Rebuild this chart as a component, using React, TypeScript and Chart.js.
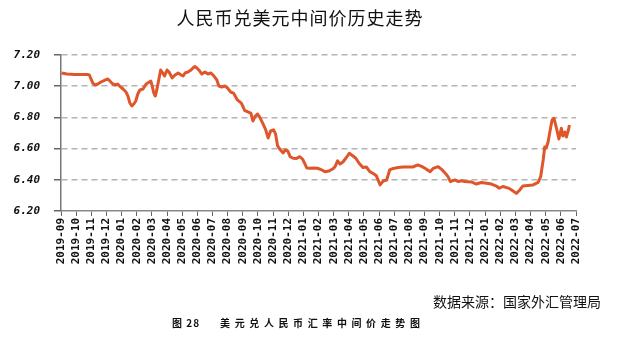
import React, { useEffect, useRef } from "react";
import { Chart, registerables } from "chart.js";

Chart.register(...registerables);

const monthLabels = [
  "2019-09", "2019-10", "2019-11", "2019-12",
  "2020-01", "2020-02", "2020-03", "2020-04", "2020-05", "2020-06",
  "2020-07", "2020-08", "2020-09", "2020-10", "2020-11", "2020-12",
  "2021-01", "2021-02", "2021-03", "2021-04", "2021-05", "2021-06",
  "2021-07", "2021-08", "2021-09", "2021-10", "2021-11", "2021-12",
  "2022-01", "2022-02", "2022-03", "2022-04", "2022-05", "2022-06", "2022-07",
];

const yTicks = [6.2, 6.4, 6.6, 6.8, 7.0, 7.2];

const dates = [
  "2019-09-02", "2019-09-13", "2019-09-28", "2019-10-12", "2019-10-24", "2019-10-28",
  "2019-11-04", "2019-11-08", "2019-11-14", "2019-11-20", "2019-11-24", "2019-11-29",
  "2019-12-04", "2019-12-10", "2019-12-14", "2019-12-20", "2019-12-24", "2019-12-28",
  "2020-01-04", "2020-01-10", "2020-01-14", "2020-01-18", "2020-01-22", "2020-01-26", "2020-01-30",
  "2020-02-03", "2020-02-07", "2020-02-13", "2020-02-19", "2020-02-25", "2020-02-28",
  "2020-03-01", "2020-03-05", "2020-03-08", "2020-03-11", "2020-03-15", "2020-03-19", "2020-03-23", "2020-03-27",
  "2020-04-01", "2020-04-05", "2020-04-11", "2020-04-17", "2020-04-23", "2020-04-29",
  "2020-05-03", "2020-05-07", "2020-05-13", "2020-05-19", "2020-05-23", "2020-05-27", "2020-05-31",
  "2020-06-04", "2020-06-10", "2020-06-16", "2020-06-22", "2020-06-28",
  "2020-07-04", "2020-07-10", "2020-07-14", "2020-07-20", "2020-07-26",
  "2020-08-01", "2020-08-07", "2020-08-13", "2020-08-21", "2020-08-29",
  "2020-09-05", "2020-09-11", "2020-09-17", "2020-09-21", "2020-09-25", "2020-09-30",
  "2020-10-05", "2020-10-11", "2020-10-17", "2020-10-22", "2020-10-27",
  "2020-11-02", "2020-11-06", "2020-11-10", "2020-11-15", "2020-11-21", "2020-11-25", "2020-11-30",
  "2020-12-05", "2020-12-11", "2020-12-18", "2020-12-25", "2020-12-31",
  "2021-01-08", "2021-01-14", "2021-01-22", "2021-01-30",
  "2021-02-07", "2021-02-13", "2021-02-20", "2021-02-27",
  "2021-03-04", "2021-03-09", "2021-03-14", "2021-03-20", "2021-03-27",
  "2021-04-02", "2021-04-08", "2021-04-15", "2021-04-21", "2021-04-29",
  "2021-05-06", "2021-05-13", "2021-05-19", "2021-05-26",
  "2021-06-03", "2021-06-09", "2021-06-16", "2021-06-22", "2021-06-29",
  "2021-07-09", "2021-07-19", "2021-07-29",
  "2021-08-08", "2021-08-18", "2021-08-25",
  "2021-09-02", "2021-09-12", "2021-09-18", "2021-09-28",
  "2021-10-05", "2021-10-12", "2021-10-18", "2021-10-23",
  "2021-11-01", "2021-11-08", "2021-11-14", "2021-11-21", "2021-11-27",
  "2021-12-04", "2021-12-14", "2021-12-24",
  "2022-01-04", "2022-01-14", "2022-01-24", "2022-01-30",
  "2022-02-06", "2022-02-16", "2022-02-22",
  "2022-03-03", "2022-03-10", "2022-03-16", "2022-03-26",
  "2022-04-06", "2022-04-16", "2022-04-21", "2022-04-26", "2022-04-29",
  "2022-05-02", "2022-05-06", "2022-05-09", "2022-05-14", "2022-05-18", "2022-05-23", "2022-05-28",
  "2022-06-02", "2022-06-05", "2022-06-09", "2022-06-12", "2022-06-16", "2022-06-18",
];

const rates = [
  7.085, 7.078, 7.075, 7.075, 7.075, 7.072,
  7.020, 7.008, 7.014, 7.027, 7.033, 7.040,
  7.046, 7.027, 7.014, 7.008, 7.014, 7.001,
  6.982, 6.963, 6.937, 6.892, 6.873, 6.886, 6.905,
  6.950, 6.976, 6.982, 7.014, 7.027, 7.033,
  7.008, 6.956, 6.937, 6.976, 7.040, 7.104, 7.085, 7.065,
  7.104, 7.091, 7.053, 7.072, 7.085, 7.072,
  7.065, 7.085, 7.091, 7.104, 7.117, 7.126, 7.117,
  7.104, 7.078, 7.091, 7.078, 7.085,
  7.065, 7.040, 7.001, 6.995, 7.001,
  6.988, 6.963, 6.956, 6.912, 6.892,
  6.843, 6.836, 6.828, 6.777, 6.804, 6.822,
  6.800, 6.762, 6.720, 6.668, 6.713,
  6.720, 6.694, 6.617, 6.594, 6.572, 6.591, 6.585,
  6.548, 6.538, 6.537, 6.548, 6.530,
  6.476, 6.474, 6.476, 6.474,
  6.463, 6.452, 6.456, 6.469,
  6.484, 6.521, 6.501, 6.514, 6.543,
  6.570, 6.556, 6.538, 6.508, 6.479,
  6.482, 6.452, 6.442, 6.428,
  6.367, 6.392, 6.399, 6.463, 6.473,
  6.479, 6.482, 6.482,
  6.482, 6.495, 6.488,
  6.474, 6.452, 6.473, 6.484,
  6.467, 6.444, 6.420, 6.388,
  6.399, 6.389, 6.394, 6.389, 6.388,
  6.386, 6.373, 6.383,
  6.378, 6.373, 6.360, 6.346,
  6.357, 6.347, 6.335,
  6.313, 6.335, 6.360, 6.363,
  6.367, 6.383, 6.420, 6.527, 6.610,
  6.604, 6.644, 6.698, 6.783, 6.794, 6.732, 6.662,
  6.730, 6.681, 6.706, 6.674, 6.719, 6.751,
];

const TITLE = "人民币兑美元中间价历史走势";
const SOURCE = "数据来源：国家外汇管理局";
const FIG_NO = "图 28";
const CAPTION = "美元兑人民币汇率中间价走势图";

// map a date string to its position on the month axis (0 = 2019-09)
function monthPos(d: string): number {
  const [y, m, day] = d.split("-").map(Number);
  const idx = (y - 2019) * 12 + (m - 9);
  const dim = new Date(y, m, 0).getDate();
  return idx + (day - 1) / dim;
}

export default function App() {
  const canvasRef = useRef<HTMLCanvasElement | null>(null);

  useEffect(() => {
    const canvas = canvasRef.current;
    if (!canvas) return;
    const points = dates.map((d, i) => ({ x: monthPos(d), y: rates[i] }));
    const tickFont = { family: "'DejaVu Sans Mono', monospace", size: 11, weight: "bold" as const };

    const chart = new Chart(canvas, {
      type: "line",
      data: {
        datasets: [
          {
            data: points,
            borderColor: "#E0562B",
            borderWidth: 3,
            pointRadius: 0,
            tension: 0,
            borderJoinStyle: "round",
            fill: false,
          },
        ],
      },
      options: {
        animation: false,
        responsive: false,
        maintainAspectRatio: false,
        layout: { padding: { top: 55, right: 58, left: 0, bottom: 0 } },
        plugins: { legend: { display: false }, tooltip: { enabled: false }, title: { display: false } },
        scales: {
          x: {
            type: "linear",
            min: 0,
            max: monthLabels.length - 1,
            afterBuildTicks: (s: any) => {
              s.ticks = monthLabels.map((_, i) => ({ value: i }));
            },
            afterFit: (s: any) => {
              s.height = 153;
            },
            ticks: {
              autoSkip: false,
              minRotation: 90,
              maxRotation: 90,
              padding: 2,
              color: "#111",
              font: tickFont,
              callback: (v: any) => monthLabels[Math.round(Number(v))] ?? "",
            },
            grid: {
              drawOnChartArea: false,
              drawTicks: true,
              tickLength: 5,
              color: "#666",
              lineWidth: 1,
            },
            border: { display: true, color: "#888", width: 1.5 },
          },
          y: {
            type: "linear",
            min: yTicks[0],
            max: yTicks[yTicks.length - 1],
            afterBuildTicks: (s: any) => {
              s.ticks = yTicks.map((v) => ({ value: v }));
            },
            afterFit: (s: any) => {
              s.width = 61;
            },
            ticks: {
              padding: 14,
              color: "#111",
              font: { family: "'DejaVu Sans Mono', monospace", size: 11, weight: "bold" as const, style: "italic" as const },
              callback: (v: any) => Number(v).toFixed(2),
            },
            grid: {
              color: (ctx: any) =>
                ctx.tick && Math.abs(ctx.tick.value - yTicks[0]) < 1e-9 ? "rgba(0,0,0,0)" : "#b4b4b4",
              lineWidth: 1.5,
              tickColor: "#666",
              tickLength: 7,
              tickBorderDash: [],
            },
            border: { display: true, color: "#777", width: 1.5, dash: [6, 4] },
          },
        },
      },
    });
    return () => chart.destroy();
  }, []);

  return (
    <div style={{ position: "fixed", left: 0, top: 0, width: 634, height: 364, background: "#fff" }}>
      <canvas ref={canvasRef} width={634} height={364} style={{ position: "absolute", left: 0, top: 0, width: 634, height: 364 }} />
      <div
        style={{
          position: "absolute",
          left: 0,
          top: 5,
          width: 600,
          textAlign: "center",
          fontFamily: "'Noto Sans CJK SC', sans-serif",
          fontSize: 18,
          letterSpacing: 1,
          lineHeight: "24px",
          color: "#111",
        }}
      >
        {TITLE}
      </div>
      <div
        style={{
          position: "absolute",
          left: 433,
          top: 292,
          fontFamily: "'Noto Sans CJK SC', sans-serif",
          fontSize: 14,
          lineHeight: "18px",
          color: "#111",
          whiteSpace: "nowrap",
        }}
      >
        {SOURCE}
      </div>
      <div
        style={{
          position: "absolute",
          left: 172,
          top: 316,
          fontFamily: "'Noto Sans CJK SC', sans-serif",
          fontSize: 10,
          fontWeight: "bold",
          lineHeight: "14px",
          color: "#111",
          whiteSpace: "nowrap",
        }}
      >
        <span style={{ letterSpacing: 1 }}>{FIG_NO}</span>
        <span style={{ marginLeft: 20, letterSpacing: 4.6 }}>{CAPTION}</span>
      </div>
    </div>
  );
}
